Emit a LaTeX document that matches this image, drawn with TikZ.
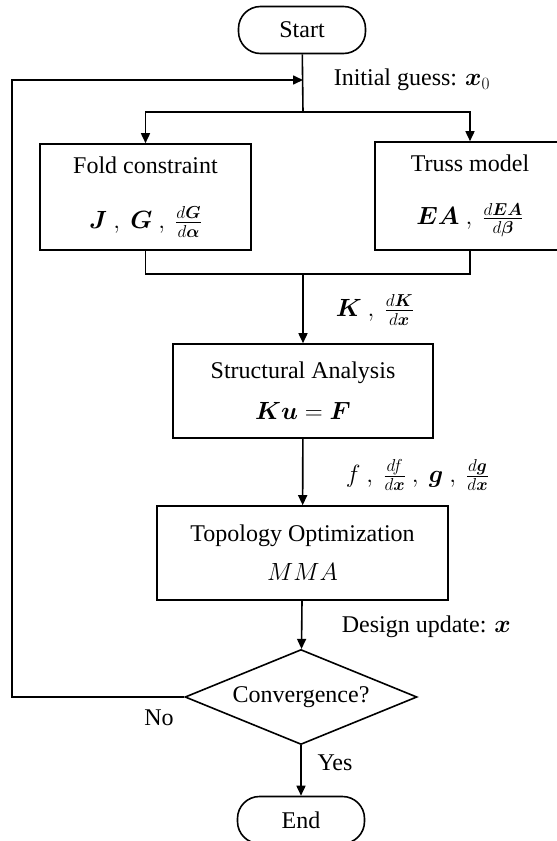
\documentclass[tikz,border=0pt]{standalone}
\usepackage{fontspec}
\setmainfont{Liberation Serif}
\usepackage{amsmath,bm}
\usetikzlibrary{shapes.geometric,arrows.meta}

\begin{document}
\begin{tikzpicture}[x=1pt,y=-1pt,line width=1.6pt,
    every node/.style={font=\fontsize{24}{29}\selectfont},
    block/.style={draw,rectangle,inner sep=0pt,align=center},
    term/.style={draw,rounded corners=22pt,minimum width=127pt,minimum height=47pt,inner sep=0pt},
    decide/.style={draw,diamond,aspect=2.44,minimum width=232pt,minimum height=95pt,inner sep=0pt},
    tag/.style={inner sep=0pt},
    arrow/.style={-{Triangle[length=10pt,width=9pt]}}]
  \useasboundingbox (0,0) rectangle (557,841);

  % blocks
  \node [term] (start) at (302,30) {Start};
  \node [block,minimum width=211pt,minimum height=106pt] (fold) at (145.5,197)
    {Fold constraint\\[26pt] $\bm{J}\ ,\ \bm{G}\ ,\ \frac{d\bm{G}}{d\bm{\alpha}}$};
  \node [block,minimum width=190pt,minimum height=108pt] (truss) at (470,196)
    {Truss model\\[24pt] $\bm{EA}\ ,\ \frac{d\bm{EA}}{d\bm{\beta}}$};
  \node [block,minimum width=260pt,minimum height=94pt] (sa) at (303,391)
    {Structural Analysis\\[12pt] $\bm{Ku}=\bm{F}$};
  \node [block,minimum width=291pt,minimum height=94pt] (topo) at (302.5,553)
    {Topology Optimization\\[10pt] $MMA$};
  \node [decide] (conv) at (301,697) {Convergence?};
  \node [term] (stop) at (301,820) {End};

  % junctions
  \coordinate (feed) at (303,80);
  \coordinate (split) at (303,112);
  \coordinate (merge) at (303,274);
  \coordinate (back) at (12,80);

  % connectors
  \draw (start) -- (split);
  \draw [arrow] (split) -| (fold.north);
  \draw [arrow] (split) -| (truss.north);
  \draw (fold.south) |- (merge);
  \draw (truss.south) |- (merge);
  \draw [arrow] (merge) -- (sa);
  \draw [arrow] (sa) -- (topo);
  \draw [arrow] (topo) -- (conv);
  \draw [arrow] (conv) -- (stop);
  \draw [arrow] (conv.west) -| (back) -- (feed);

  % labels
  \node [tag,anchor=west] (guess) at (333,80) {Initial guess: $\bm{x}_0$};
  \node [tag,anchor=west] (stiff) at (335,310) {$\bm{K}\ ,\ \frac{d\bm{K}}{d\bm{x}}$};
  \node [tag,anchor=west] (sens) at (345,475) {$f\ ,\ \frac{df}{d\bm{x}}\ ,\ \bm{g}\ ,\ \frac{d\bm{g}}{d\bm{x}}$};
  \node [tag,anchor=west] (update) at (341,627) {Design update: $\bm{x}$};
  \node [tag] (no) at (159,718) {No};
  \node [tag] (yes) at (335,763) {Yes};
\end{tikzpicture}
\end{document}
